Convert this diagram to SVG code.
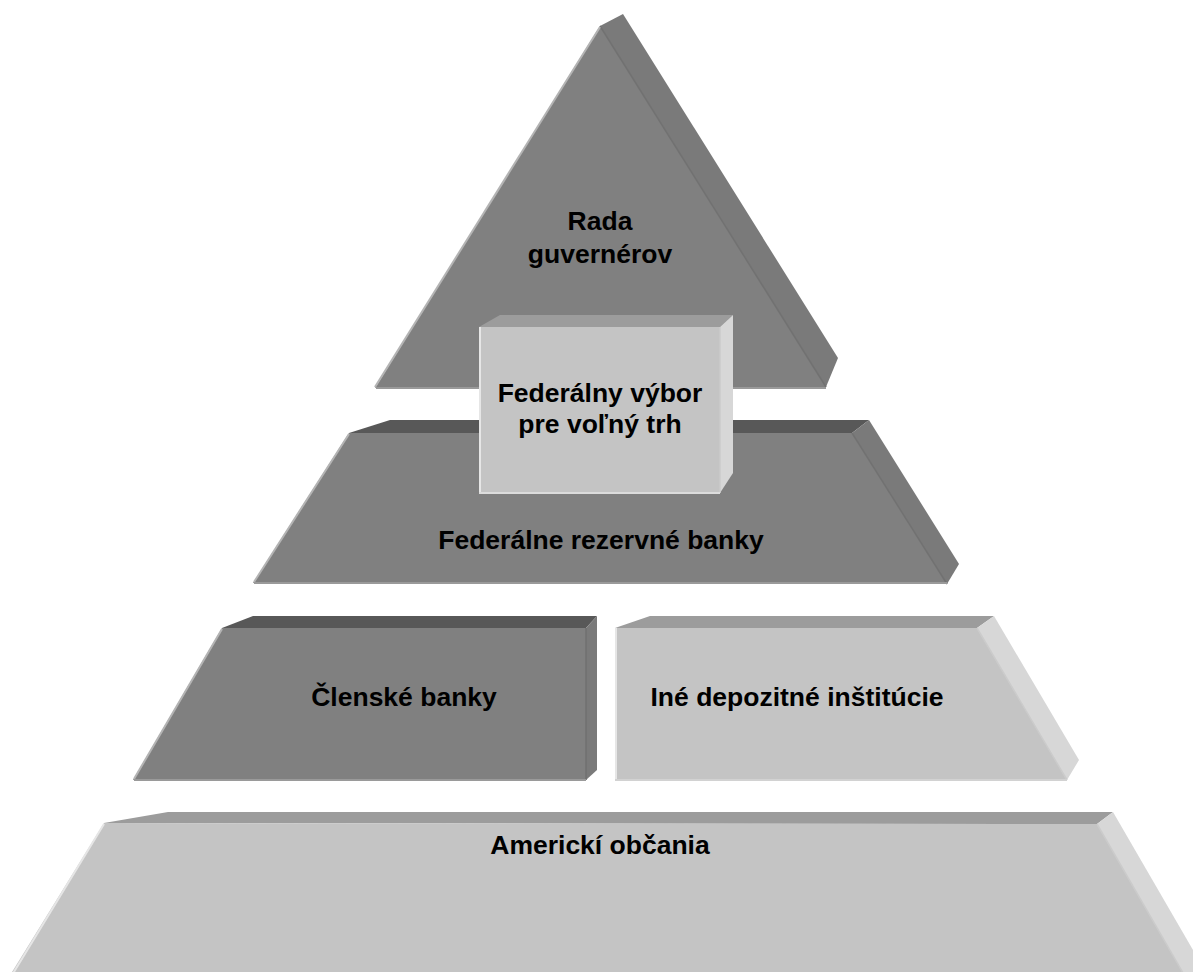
<svg xmlns="http://www.w3.org/2000/svg" width="1193" height="972" viewBox="0 0 1193 972">
<style>
.dk{fill:#808080}
.dks{fill:#7a7a7a}
.dkt{fill:#585858}
.lt{fill:#c4c4c4}
.lts{fill:#d7d7d7}
.ltt{fill:#9c9c9c}
.hl{stroke:#b4b4b4;stroke-width:2;fill:none}
.hll{stroke:#e6e6e6;stroke-width:2;fill:none}
.cr{stroke:#717171;stroke-width:1.5;fill:none}
.crl{stroke:#cbcbcb;stroke-width:1.5;fill:none}
.bt{stroke:#9a9a9a;stroke-width:2;fill:none}
.btl{stroke:#d2d2d2;stroke-width:2;fill:none}
text{font-family:"Liberation Sans",Arial,sans-serif;font-weight:bold;font-size:26.5px;fill:#000;text-anchor:middle}
</style>
<rect width="1193" height="972" fill="#ffffff"/>
<g id="rada">
<polygon class="dks" points="600,26 623,14 838,358 826,387"/>
<polygon class="dk" points="600,26 826,387 375,388"/>
<line class="cr" x1="600" y1="26" x2="826" y2="387"/>
<line class="hl" x1="600" y1="27" x2="375" y2="387"/>
<line class="bt" x1="376" y1="388" x2="826" y2="388"/>
<text x="600" y="230">Rada</text>
<text x="600" y="263">guvernérov</text>
</g>
<g id="fed-banky">
<polygon class="dkt" points="349,433 390,420 869,420 852,433"/>
<polygon class="dks" points="852,433 869,420 959,564 947,584"/>
<polygon class="dk" points="349,433 852,433 947,584 253,583"/>
<line class="cr" x1="852" y1="433" x2="947" y2="584"/>
<line class="hl" x1="349" y1="434" x2="254" y2="582"/>
<line class="bt" x1="254" y1="583" x2="947" y2="583"/>
<text x="601" y="549">Federálne rezervné banky</text>
</g>
<g id="fomc">
<polygon class="ltt" points="479,327 500,315 733,315 720,327"/>
<polygon class="lts" points="720,327 733,315 733,473 720,493"/>
<rect class="lt" x="479" y="327" width="241" height="166"/>
<line class="crl" x1="720" y1="327" x2="720" y2="493"/>
<line class="hll" x1="480" y1="327" x2="480" y2="493"/>
<line x1="479" y1="493" x2="720" y2="493" stroke="#dcdcdc" stroke-width="2"/>
<text x="600" y="402">Federálny výbor</text>
<text x="600" y="433">pre voľný trh</text>
</g>
<g id="clenske">
<polygon class="dkt" points="222,628 253,616 597,616 586,628"/>
<polygon class="dks" points="586,628 597,616 597,770 586,780"/>
<polygon class="dk" points="222,628 586,628 586,780 133,780"/>
<line class="cr" x1="586" y1="628" x2="586" y2="780"/>
<line class="hl" x1="222" y1="629" x2="134" y2="779"/>
<line class="bt" x1="134" y1="780" x2="586" y2="780"/>
<text x="404" y="706">Členské banky</text>
</g>
<g id="ine">
<polygon class="ltt" points="615,628 650,616 994,616 977,628"/>
<polygon class="lts" points="977,628 994,616 1079,760 1067,780"/>
<polygon class="lt" points="615,628 977,628 1067,780 615,780"/>
<line class="crl" x1="977" y1="628" x2="1067" y2="780"/>
<line class="hll" x1="616" y1="628" x2="616" y2="780"/>
<line class="btl" x1="615" y1="780" x2="1067" y2="780"/>
<text x="797" y="706">Iné depozitné inštitúcie</text>
</g>
<g id="obcania">
<polygon class="ltt" points="104,823 168,812 1113,812 1097,824"/>
<polygon class="lts" points="1097,824 1113,812 1215,988 1193,990"/>
<polygon class="lt" points="104,823 1097,824 1190,985 4,985"/>
<line class="crl" x1="1097" y1="824" x2="1190" y2="985"/>
<line class="hll" x1="104" y1="824" x2="6" y2="985"/>
<text x="600" y="854">Americkí občania</text>
</g>
<g id="connectors"/>
</svg>
